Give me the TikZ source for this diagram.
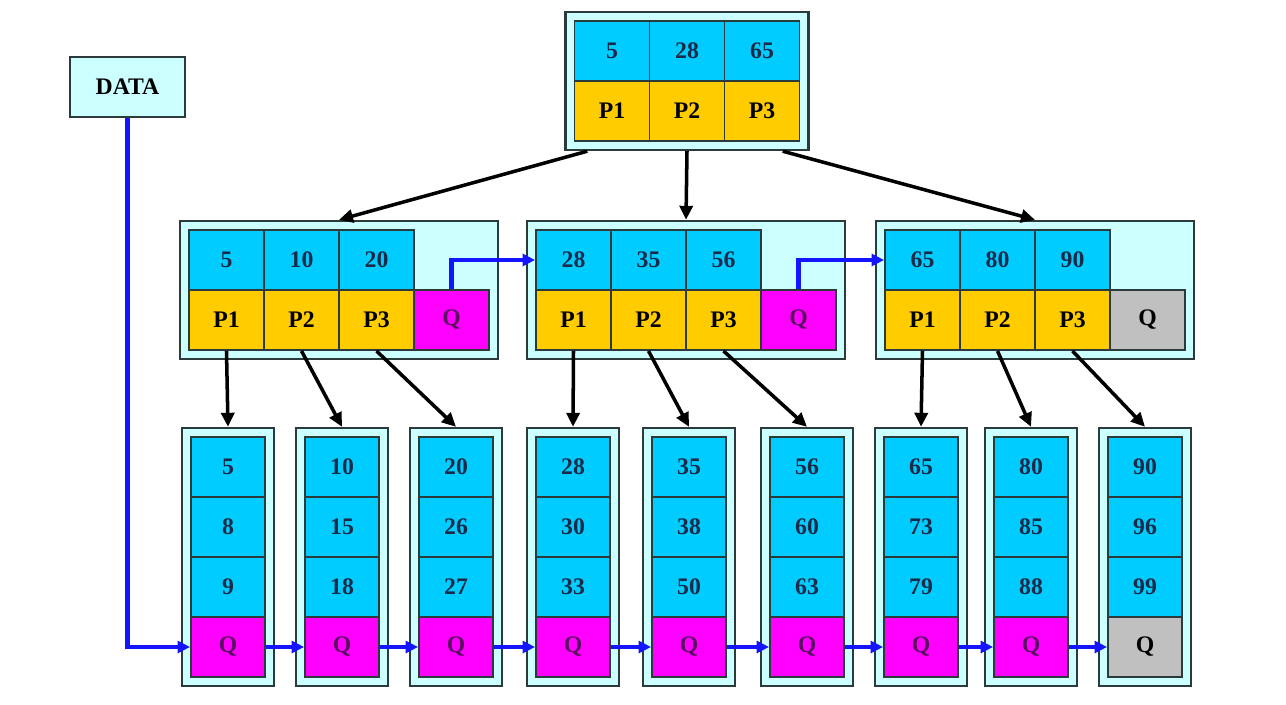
\documentclass[tikz,border=0pt]{standalone}
\usepackage{fontspec}
\setmainfont{Liberation Serif}
\usetikzlibrary{arrows.meta,fit,backgrounds}
\definecolor{keycolor}{HTML}{00CCFF}
\definecolor{ptrcolor}{HTML}{FFCC00}
\definecolor{linkcolor}{HTML}{FF00FF}
\definecolor{endcolor}{HTML}{C0C0C0}
\definecolor{boxcolor}{HTML}{CCFFFF}
\definecolor{numtext}{HTML}{1A2A48}
\definecolor{linktext}{HTML}{5A1060}
\definecolor{edgecolor}{HTML}{2B3A3A}
\definecolor{chainblue}{HTML}{1414FF}

\begin{document}
\begin{tikzpicture}[x=0.02cm, y=-0.02cm,
  cell/.style={draw=edgecolor, line width=1.1pt, minimum width=1.5cm, minimum height=1.2cm,
    inner sep=0pt, font=\fontsize{13.5}{15}\selectfont\bfseries},
  key/.style={cell, fill=keycolor, text=numtext},
  ptr/.style={cell, fill=ptrcolor, text=black},
  link/.style={cell, fill=linkcolor, text=linktext},
  nil/.style={cell, fill=endcolor, text=black},
  frame/.style={draw=edgecolor, fill=boxcolor, line width=1.4pt, inner sep=0.16cm},
  down/.style={-{Triangle[length=0.28cm, width=0.26cm]}, line width=2pt, black},
  chain/.style={-{Triangle[length=0.25cm, width=0.24cm]}, line width=2.4pt, chainblue}]

  \useasboundingbox (0,0) rectangle (1286,704);

  % Data entry
  \node[cell, fill=boxcolor, draw=edgecolor, line width=1.2pt, minimum width=2.3cm, text=black] (data) at (127.5,87) {DATA};

  % Root node
  \node[key] (r-k1) at (612,51) {5};
  \node[key] (r-k2) at (687,51) {28};
  \node[key] (r-k3) at (762,51) {65};
  \node[ptr] (r-p1) at (612,111) {P1};
  \node[ptr] (r-p2) at (687,111) {P2};
  \node[ptr] (r-p3) at (762,111) {P3};
  \begin{scope}[on background layer]
    \node[frame, fit=(r-k1)(r-p3)] (rf) {};
  \end{scope}

  % Middle level nodes
  \foreach \m/\x/\a/\b/\c/\s in {1/226.5/5/10/20/link, 2/573.5/28/35/56/link, 3/922.5/65/80/90/nil}{
    \node[key] (m\m-k1) at (\x,260) {\a};
    \node[key] (m\m-k2) at ({\x+75},260) {\b};
    \node[key] (m\m-k3) at ({\x+150},260) {\c};
    \node[ptr] (m\m-p1) at (\x,320) {P1};
    \node[ptr] (m\m-p2) at ({\x+75},320) {P2};
    \node[ptr] (m\m-p3) at ({\x+150},320) {P3};
    \node[\s] (m\m-q) at ({\x+225},320) {Q};
    \begin{scope}[on background layer]
      \node[frame, fit=(m\m-k1)(m\m-q)] (mf\m) {};
    \end{scope}
  }

  % Leaf nodes
  \foreach \i/\x/\a/\b/\c/\s in {1/228/5/8/9/link, 2/342/10/15/18/link, 3/456/20/26/27/link,
      4/573/28/30/33/link, 5/689/35/38/50/link, 6/807/56/60/63/link,
      7/921/65/73/79/link, 8/1031/80/85/88/link, 9/1145/90/96/99/nil}{
    \node[key, minimum width=1.48cm] (l\i-1) at (\x,467) {\a};
    \node[key, minimum width=1.48cm] (l\i-2) at (\x,527) {\b};
    \node[key, minimum width=1.48cm] (l\i-3) at (\x,587) {\c};
    \node[\s, minimum width=1.48cm] (l\i-q) at (\x,647) {Q};
    \begin{scope}[on background layer]
      \node[frame, fit=(l\i-1)(l\i-q)] (lf\i) {};
    \end{scope}
  }

  % Root to middle level
  \draw[down] ([xshift=0.46cm]rf.south west) -- (mf1.north);
  \draw[down] (rf.south) -- (mf2.north);
  \draw[down] ([xshift=-0.54cm]rf.south east) -- (mf3.north);

  % Middle level to leaves
  \foreach \m/\n in {1/1, 2/4, 3/7}{
    \pgfmathtruncatemacro{\nb}{\n+1}
    \pgfmathtruncatemacro{\nc}{\n+2}
    \draw[down] (m\m-p1.south) -- (lf\n.north);
    \draw[down] (m\m-p2.south) -- (lf\nb.north);
    \draw[down] (m\m-p3.south) -- (lf\nc.north);
  }

  % Sibling links
  \draw[chain] (m1-q.north) |- (m2-k1.west);
  \draw[chain] (m2-q.north) |- (m3-k1.west);
  \draw[chain] (data.south) |- (l1-q.west);
  \foreach \i in {1,...,8}{
    \pgfmathtruncatemacro{\j}{\i+1}
    \draw[chain] (l\i-q.east) -- (l\j-q.west);
  }

\end{tikzpicture}
\end{document}
